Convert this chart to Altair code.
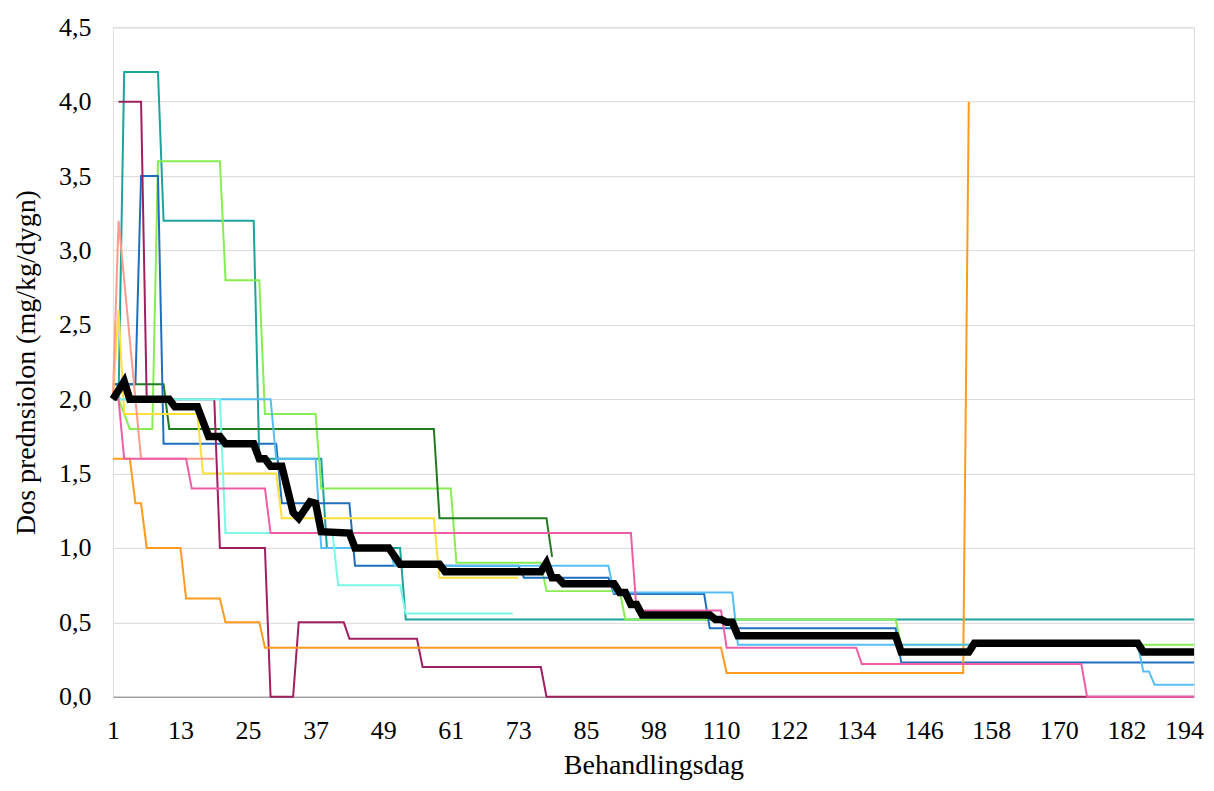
import altair as alt
import pandas as pd

# x positions are category indices (0..192) of the Excel-like category axis
tick_positions = [0, 12, 24, 36, 48, 60, 72, 84, 96, 108, 120, 132, 144, 156, 168, 180, 192]
tick_labels = ["1", "13", "25", "37", "49", "61", "73", "85", "98", "110", "122",
               "134", "146", "158", "170", "182", "194"]
y_ticks = [0, 0.5, 1.0, 1.5, 2.0, 2.5, 3.0, 3.5, 4.0, 4.5]

teal_x = [0, 1, 2, 8, 9, 25, 26, 37, 38, 51, 52, 192]
teal_y = [2.0, 2.0, 4.2, 4.2, 3.2, 3.2, 1.6, 1.6, 1.0, 1.0, 0.52, 0.52]

green_x = [0, 1, 3, 7, 8, 19, 20, 26, 27, 36, 37, 60, 61, 76, 77, 90, 91, 139, 140, 192]
green_y = [2.0, 2.0, 1.8, 1.8, 3.6, 3.6, 2.8, 2.8, 1.9, 1.9, 1.4, 1.4, 0.9, 0.9, 0.71, 0.71,
           0.52, 0.52, 0.35, 0.35]

darkgreen_x = [0, 9, 10, 57, 58, 77, 78]
darkgreen_y = [2.1, 2.1, 1.8, 1.8, 1.2, 1.2, 0.94]

darkblue_x = [0, 4, 5, 8, 9, 29, 30, 42, 43, 72, 73, 88, 89, 105, 106, 139, 140, 192]
darkblue_y = [2.1, 2.1, 3.5, 3.5, 1.7, 1.7, 1.3, 1.3, 0.88, 0.88, 0.8, 0.8, 0.69, 0.69,
              0.46, 0.46, 0.23, 0.23]

yellow_x = [0, 1, 2, 15, 16, 29, 30, 57, 58, 72]
yellow_y = [2.0, 2.6, 1.9, 1.9, 1.5, 1.5, 1.2, 1.2, 0.8, 0.8]

salmon_x = [0, 1, 5, 18]
salmon_y = [2.0, 3.2, 1.6, 1.6]

maroon_x = [1, 5, 6, 18, 19, 27, 28, 32, 33, 41, 42, 54, 55, 76, 77, 192]
maroon_y = [4.0, 4.0, 2.0, 2.0, 1.0, 1.0, 0.0, 0.0, 0.5, 0.5, 0.39, 0.39, 0.2, 0.2, 0.0, 0.0]

orange_x = [0, 3, 4, 5, 6, 12, 13, 19, 20, 26, 27, 108, 109, 151, 152]
orange_y = [1.6, 1.6, 1.3, 1.3, 1.0, 1.0, 0.66, 0.66, 0.5, 0.5, 0.33, 0.33, 0.16, 0.16, 4.0]

lightblue_x = [0, 28, 29, 36, 37, 49, 50, 88, 89, 110, 111, 182, 183, 184, 185, 192]
lightblue_y = [2.0, 2.0, 1.6, 1.6, 1.0, 1.0, 0.88, 0.88, 0.7, 0.7, 0.35, 0.35, 0.17, 0.17,
               0.08, 0.08]

aqua_x = [0, 19, 20, 39, 40, 51, 52, 71]
aqua_y = [2.0, 2.0, 1.1, 1.1, 0.75, 0.75, 0.56, 0.56]

pink_x = [0, 1, 2, 13, 14, 27, 28, 92, 93, 108, 109, 132, 133, 172, 173, 192]
pink_y = [2.0, 2.0, 1.6, 1.6, 1.4, 1.4, 1.1, 1.1, 0.58, 0.58, 0.33, 0.33, 0.22, 0.22, 0.0, 0.0]

mean_x = [0, 2, 3, 10, 11, 15, 17, 19, 20, 25, 26, 27, 28, 30, 32, 33, 35, 36, 37, 42, 43,
          49, 51, 58, 59, 76, 77, 78, 79, 80, 89, 90, 91, 92, 93, 94, 106, 107, 108, 109,
          110, 111, 139, 140, 152, 153, 182, 183, 192]
mean_y = [2.0, 2.12, 2.0, 2.0, 1.95, 1.95, 1.75, 1.75, 1.7, 1.7, 1.6, 1.6, 1.55, 1.55, 1.24,
          1.2, 1.31, 1.3, 1.11, 1.1, 1.0, 1.0, 0.89, 0.89, 0.84, 0.84, 0.9, 0.8, 0.8, 0.76,
          0.76, 0.7, 0.7, 0.62, 0.62, 0.55, 0.55, 0.52, 0.52, 0.5, 0.5, 0.41, 0.41, 0.3, 0.3,
          0.36, 0.36, 0.3, 0.3]

series = [
    ("teal", "#1BA39C", teal_x, teal_y),
    ("green", "#86EE50", green_x, green_y),
    ("darkgreen", "#1E7B1E", darkgreen_x, darkgreen_y),
    ("darkblue", "#1F6FBF", darkblue_x, darkblue_y),
    ("yellow", "#FFDF3A", yellow_x, yellow_y),
    ("salmon", "#FF9B8A", salmon_x, salmon_y),
    ("maroon", "#9E1F63", maroon_x, maroon_y),
    ("orange", "#FF9A1F", orange_x, orange_y),
    ("lightblue", "#55BFF5", lightblue_x, lightblue_y),
    ("aqua", "#7DF7E8", aqua_x, aqua_y),
    ("pink", "#EF5DA8", pink_x, pink_y),
]

FONT = "Liberation Serif"
label_arr = "[" + ",".join("'" + s + "'" for s in tick_labels) + "]"

x_enc = alt.X(
    "dag:Q",
    scale=alt.Scale(domain=[0, 192], nice=False, zero=False),
    axis=alt.Axis(
        values=tick_positions,
        labelExpr=label_arr + "[round(datum.value / 12)]",
        title="Behandlingsdag",
        grid=False,
        ticks=False,
        domain=True,
        domainColor="#888888",
        domainWidth=1,
        labelFont=FONT, labelFontSize=26, labelColor="#000000",
        labelPadding=21,
        labelOffset={"expr": "datum.value == 192 ? -10 : 0"},
        titleFont=FONT, titleFontSize=28, titleFontWeight="normal", titleColor="#000000",
        titlePadding=8,
        labelFlush=False,
        labelOverlap=False,
    ),
)
y_enc = alt.Y(
    "dos:Q",
    scale=alt.Scale(domain=[0, 4.5], nice=False, zero=True),
    axis=alt.Axis(
        values=y_ticks,
        labelExpr="replace(format(datum.value, '.1f'), '.', ',')",
        title="Dos prednsiolon (mg/kg/dygn)",
        grid=True,
        gridColor="#D9D9D9",
        gridWidth=1,
        ticks=False,
        domain=False,
        labelFont=FONT, labelFontSize=26, labelColor="#000000",
        labelPadding=22,
        titleFont=FONT, titleFontSize=28, titleFontWeight="normal", titleColor="#000000",
        titlePadding=18,
        labelOverlap=False,
    ),
)

layers = []
for name, color, xs, ys in series:
    df = pd.DataFrame({"dag": xs, "dos": ys})
    layers.append(
        alt.Chart(df).mark_line(color=color, strokeWidth=2, strokeJoin="miter")
        .encode(x=x_enc, y=y_enc)
    )

mean_df = pd.DataFrame({"dag": mean_x, "dos": mean_y})
layers.append(
    alt.Chart(mean_df).mark_line(color="#000000", strokeWidth=7.5, strokeJoin="miter",
                                 strokeCap="butt")
    .encode(x=x_enc, y=y_enc)
)

chart = alt.layer(*layers).properties(
    width=1082,
    height=670,
    autosize=alt.AutoSizeParams(type="none"),
    padding={"left": 105, "top": 19, "right": 12, "bottom": 86},
).configure_view(stroke=None).configure(background="#FFFFFF")

chart.save("out.html", embed_options={"renderer": "svg", "actions": False})
